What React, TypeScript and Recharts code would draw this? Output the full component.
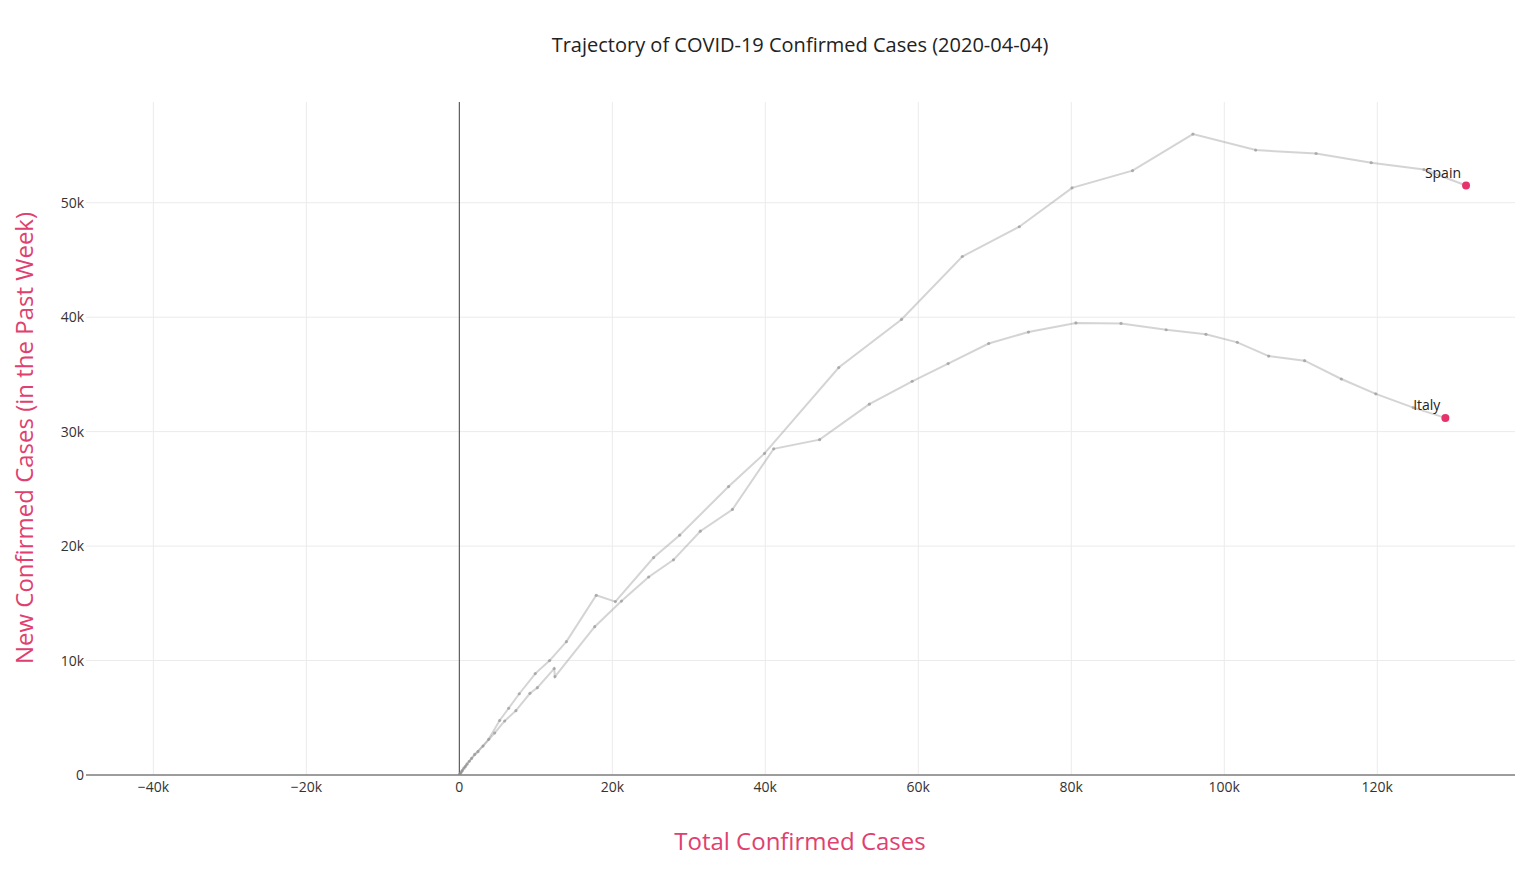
import { LineChart, Line, XAxis, YAxis, CartesianGrid, ReferenceLine } from "recharts";

const spainTotal = [0, 100, 300, 600, 1000, 1600, 2440, 3830, 5270, 6450, 7840, 9930, 11800, 14000, 17900, 20400, 25400, 28800, 35200, 39900, 49600, 57800, 65750, 73200, 80100, 88000, 95900, 104100, 112000, 119200, 126100, 131600];
const spainNew = [0, 100, 300, 600, 950, 1450, 2040, 3120, 4760, 5830, 7100, 8860, 10000, 11650, 15700, 15150, 19000, 20950, 25200, 28100, 35600, 39800, 45300, 47900, 51300, 52800, 56000, 54600, 54300, 53500, 52900, 51500];

const italyTotal = [0, 150, 400, 800, 1300, 2000, 3100, 4620, 5930, 7400, 9240, 10200, 12400, 12500, 17700, 21200, 24750, 28000, 31500, 35700, 41100, 47100, 53600, 59200, 63900, 69200, 74400, 80600, 86500, 92400, 97600, 101700, 105800, 110500, 115300, 119800, 124700, 128900];
const italyNew = [0, 150, 400, 750, 1200, 1800, 2530, 3670, 4720, 5620, 7140, 7630, 9300, 8600, 12960, 15200, 17300, 18800, 21300, 23200, 28500, 29300, 32400, 34400, 35950, 37700, 38700, 39500, 39450, 38900, 38500, 37800, 36600, 36200, 34600, 33300, 32100, 31200];

const xTicks = [-40000, -20000, 0, 20000, 40000, 60000, 80000, 100000, 120000];
const yTicks = [0, 10000, 20000, 30000, 40000, 50000];

const toPoints = (xs: number[], ys: number[]) => xs.map((x, i) => ({ x, y: ys[i] }));
const spain = toPoints(spainTotal, spainNew);
const italy = toPoints(italyTotal, italyNew);

const FONT = "'Open Sans', sans-serif";
const ACCENT = "#e6336b";
const TITLE_COLOR = "#e0406f";

const fmt = (v: number) => (v === 0 ? "0" : `${v < 0 ? "\u2212" : ""}${Math.abs(v) / 1000}k`);

function makeDot(name: string, count: number) {
  return (props: any) => {
    const { cx, cy, index } = props;
    if (index === count - 1) {
      return (
        <g key={`${name}-end`}>
          <circle cx={cx} cy={cy} r={4} fill={ACCENT} />
          <text x={cx - 5} y={cy - 8} textAnchor="end" fontSize={14} fill="#222" fontFamily={FONT}>
            {name}
          </text>
        </g>
      );
    }
    return <circle key={`${name}-${index}`} cx={cx} cy={cy} r={1.6} fill="rgba(140,140,140,0.6)" />;
  };
}

export default function App() {
  return (
    <div style={{ position: "absolute", left: 0, top: 0, width: 1530, height: 869, fontFamily: FONT, background: "#fff" }}>
      <div style={{ position: "absolute", left: 0, width: 1600, top: 31, textAlign: "center", fontSize: 20, color: "#222" }}>
        Trajectory of COVID-19 Confirmed Cases (2020-04-04)
      </div>
      <div style={{ position: "absolute", left: 0, width: 1600, top: 824, textAlign: "center", fontSize: 24, color: TITLE_COLOR }}>
        Total Confirmed Cases
      </div>
      <div
        style={{
          position: "absolute",
          left: 23,
          top: 438,
          transform: "translate(-50%, -50%) rotate(-90deg)",
          whiteSpace: "nowrap",
          fontSize: 24,
          color: TITLE_COLOR,
        }}
      >
        New Confirmed Cases (in the Past Week)
      </div>
      <LineChart width={1530} height={869} margin={{ top: 102, right: 15, bottom: 64, left: 46 }}>
        <CartesianGrid stroke="#ebebeb" strokeWidth={1} syncWithTicks />
        <XAxis
          type="number"
          dataKey="x"
          domain={[-48800, 138000]}
          ticks={xTicks}
          tickFormatter={fmt}
          allowDataOverflow
          height={30}
          tickLine={false}
          tickSize={0}
          tickMargin={7}
          axisLine={{ stroke: "#444", strokeWidth: 1 }}
          tick={{ fontSize: 14, fill: "#333", fontFamily: FONT }}
        />
        <YAxis
          type="number"
          dataKey="y"
          domain={[0, 58800]}
          ticks={yTicks}
          tickFormatter={fmt}
          allowDataOverflow
          width={40}
          tickLine={false}
          tickSize={0}
          tickMargin={2}
          axisLine={false}
          tick={{ fontSize: 14, fill: "#333", fontFamily: FONT }}
        />
        <ReferenceLine x={0} stroke="#444" strokeWidth={1} />
        <Line
          data={spain}
          dataKey="y"
          type="linear"
          stroke="rgba(160,160,160,0.45)"
          strokeWidth={2}
          dot={makeDot("Spain", spain.length)}
          activeDot={false}
          isAnimationActive={false}
        />
        <Line
          data={italy}
          dataKey="y"
          type="linear"
          stroke="rgba(160,160,160,0.45)"
          strokeWidth={2}
          dot={makeDot("Italy", italy.length)}
          activeDot={false}
          isAnimationActive={false}
        />
      </LineChart>
    </div>
  );
}
